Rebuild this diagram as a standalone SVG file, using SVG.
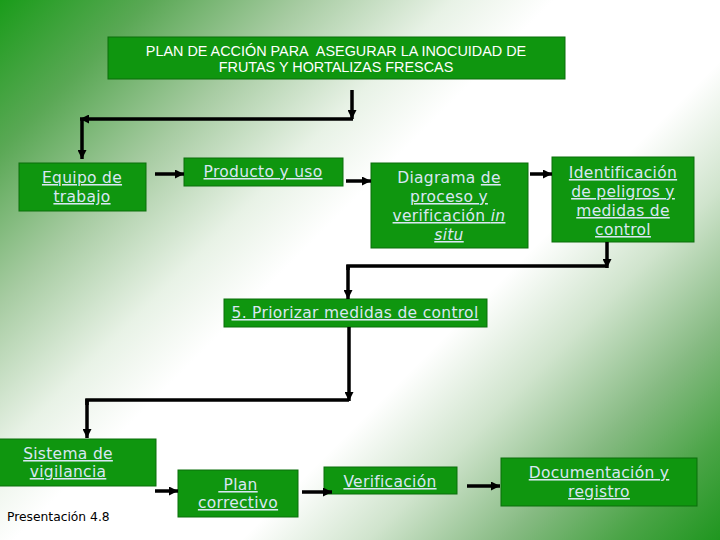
<svg xmlns="http://www.w3.org/2000/svg" width="720" height="540" viewBox="0 0 720 540">
<defs>
<linearGradient id="bg" gradientUnits="userSpaceOnUse" x1="0" y1="0" x2="630" y2="630">
<stop offset="0" stop-color="#1a9c1a"/>
<stop offset="0.12" stop-color="#5aa855"/>
<stop offset="0.24" stop-color="#a6cba1"/>
<stop offset="0.36" stop-color="#e8f2e6"/>
<stop offset="0.44" stop-color="#ffffff"/>
<stop offset="0.62" stop-color="#ffffff"/>
<stop offset="0.72" stop-color="#d0e4cd"/>
<stop offset="0.83" stop-color="#86ba82"/>
<stop offset="0.92" stop-color="#4aa446"/>
<stop offset="1" stop-color="#1f961f"/>
</linearGradient>
<marker id="ah" viewBox="0 0 10 10" refX="10" refY="5" markerWidth="9" markerHeight="9" markerUnits="userSpaceOnUse" orient="auto">
<path d="M0,0 L10,5 L0,10 z" fill="#000"/>
</marker>
</defs>
<style>
.box{fill:#0f960f;stroke:#0b6e0b;stroke-width:1}
.t{font-family:"DejaVu Sans",Verdana,sans-serif;font-size:15.5px;letter-spacing:0.3px;fill:#d9e7f3;text-anchor:middle}
.u{text-decoration:underline}
.title{font-family:"Liberation Sans",Arial,sans-serif;font-size:14.4px;fill:#ffffff;text-anchor:middle}
.c{fill:none;stroke:#000;stroke-width:3.5}
.a{marker-end:url(#ah)}
</style>
<rect x="0" y="0" width="720" height="540" fill="url(#bg)"/>

<g id="title">
<rect class="box" x="108" y="37" width="457" height="42"/>
<text class="title" x="336" y="56">PLAN DE ACCIÓN PARA&#160; ASEGURAR LA INOCUIDAD DE</text>
<text class="title" x="336" y="72">FRUTAS Y HORTALIZAS FRESCAS</text>
</g>

<g id="equipo">
<rect class="box" x="19" y="163" width="127" height="48"/>
<text class="t u" x="82" y="183">Equipo de</text>
<text class="t u" x="82" y="202">trabajo</text>
</g>

<g id="producto">
<rect class="box" x="184" y="158" width="159" height="28"/>
<text class="t u" x="263" y="177">Producto y uso</text>
</g>

<g id="diagrama">
<rect class="box" x="371" y="163" width="157" height="85"/>
<text class="t" x="449" y="183">Diagrama <tspan class="u">de</tspan></text>
<text class="t u" x="449" y="202">proceso y</text>
<text class="t" x="449" y="221"><tspan class="u">verificación </tspan><tspan class="u" font-style="italic">in</tspan></text>
<text class="t u" x="449" y="240" font-style="italic">situ</text>
</g>

<g id="identificacion">
<rect class="box" x="552" y="157" width="142" height="85"/>
<text class="t u" x="623" y="178">Identificación</text>
<text class="t u" x="623" y="197">de peligros y</text>
<text class="t u" x="623" y="216">medidas de</text>
<text class="t u" x="623" y="235">control</text>
</g>

<g id="priorizar">
<rect class="box" x="224" y="299" width="263" height="28"/>
<text class="t u" x="355" y="318">5. Priorizar medidas de control</text>
</g>

<g id="sistema">
<rect class="box" x="-1" y="439" width="157" height="47"/>
<text class="t u" x="68" y="459">Sistema de</text>
<text class="t u" x="68" y="477">vigilancia</text>
</g>

<g id="plan">
<rect class="box" x="178" y="470" width="120" height="47"/>
<text class="t u" x="238" y="490" xml:space="preserve"> Plan</text>
<text class="t u" x="238" y="508">correctivo</text>
</g>

<g id="verificacion">
<rect class="box" x="324" y="467" width="133" height="27"/>
<text class="t u" x="390" y="487">Verificación</text>
</g>

<g id="documentacion">
<rect class="box" x="501" y="458" width="196" height="48"/>
<text class="t u" x="599" y="478">Documentación y</text>
<text class="t u" x="599" y="497">registro</text>
</g>

<g id="presentacion">
<text x="7" y="521" font-family="'DejaVu Sans',Verdana,sans-serif" font-size="12.3px" fill="#000">Presentación 4.8</text>
</g>

<g id="connectors">
<line class="c a" x1="352" y1="90" x2="352" y2="119"/>
<line class="c a" x1="353" y1="119" x2="80" y2="119"/>
<line class="c a" x1="82" y1="118" x2="82" y2="159"/>
<line class="c a" x1="155" y1="174" x2="184" y2="174"/>
<line class="c a" x1="346" y1="181" x2="371" y2="181"/>
<line class="c a" x1="530" y1="174" x2="552" y2="174"/>
<line class="c a" x1="607" y1="242" x2="607" y2="268"/>
<polyline class="c" points="607,266 348,266 348,270"/>
<line class="c a" x1="348" y1="265" x2="348" y2="299"/>
<line class="c a" x1="349" y1="327" x2="349" y2="401"/>
<polyline class="c" points="349,400 87,400 87,405"/>
<line class="c a" x1="87" y1="399" x2="87" y2="438"/>
<line class="c a" x1="155" y1="491" x2="178" y2="491"/>
<line class="c a" x1="302" y1="492" x2="332" y2="492"/>
<line class="c a" x1="467" y1="486" x2="500" y2="486"/>
</g>
</svg>
